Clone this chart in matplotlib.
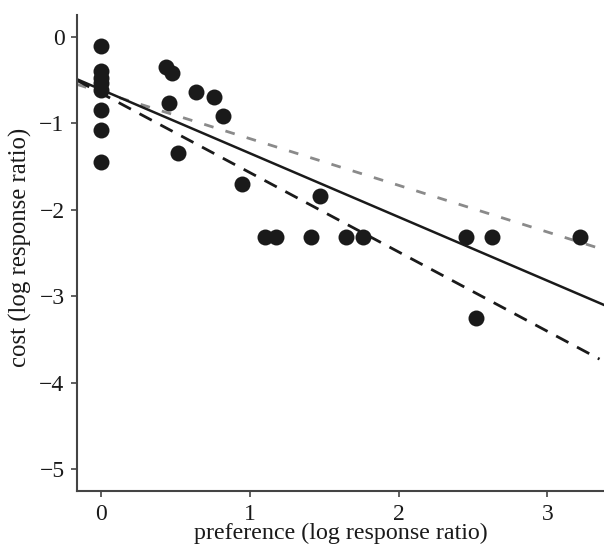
import matplotlib
matplotlib.use("Agg")
import matplotlib.pyplot as plt
import numpy as np

# data points
pref = [0, 0, 0, 0, 0, 0, 0, 0,
        0.44, 0.48, 0.46, 0.64, 0.76, 0.82, 0.52, 0.95,
        1.47, 1.10, 1.18, 1.41, 1.65, 1.76, 2.45, 2.63, 3.22, 2.52]
cost = [-0.10, -0.40, -0.47, -0.53, -0.62, -0.84, -1.08, -1.45,
        -0.35, -0.42, -0.77, -0.64, -0.70, -0.92, -1.34, -1.70,
        -1.84, -2.31, -2.31, -2.31, -2.31, -2.31, -2.31, -2.31, -2.31, -3.25]

# fitted lines: (intercept, slope)
fit_solid = [-0.608, -0.737]
fit_black_dash = [-0.65, -0.918]
fit_gray_dash = [-0.636, -0.54]

xticks = [0, 1, 2, 3]
yticks = [0, -1, -2, -3, -4, -5]
ytick_labels = ["0", "\u22121", "\u22122", "\u22123", "\u22124", "\u22125"]

plt.rcParams['font.family'] = ['Liberation Serif', 'DejaVu Serif']

fig = plt.figure(figsize=(6.04, 5.44), dpi=100)
ax = fig.add_axes([0.1275, 0.0974, 0.8725, 0.8746])

xs_full = np.array([-0.16, 3.38])
xs_dash = np.array([-0.16, 3.35])
ax.plot(xs_dash, fit_gray_dash[0] + fit_gray_dash[1] * xs_dash, color="#8a8a8a",
        lw=2.0, dashes=(3.5, 4.5), zorder=2)
ax.plot(xs_dash, fit_black_dash[0] + fit_black_dash[1] * xs_dash, color="#1a1a1a",
        lw=2.0, dashes=(5, 3.5), zorder=2)
ax.plot(xs_full, fit_solid[0] + fit_solid[1] * xs_full, color="#1a1a1a", lw=1.8, zorder=2)

ax.plot(pref, cost, 'o', color="#1a1a1a", markersize=11.5, markeredgewidth=0, zorder=3)

ax.set_xlim(-0.16, 3.38)
ax.set_ylim(-5.25, 0.25)
ax.set_xticks(xticks)
ax.set_xticklabels([str(t) for t in xticks])
ax.set_yticks(yticks)
ax.set_yticklabels(ytick_labels)

for s in ["top", "right"]:
    ax.spines[s].set_visible(False)
for s in ["left", "bottom"]:
    ax.spines[s].set_color("#444444")
    ax.spines[s].set_linewidth(1.5)

ax.tick_params(axis="both", direction="out", length=4, width=1.2, color="#444444",
               labelsize=17, labelcolor="#1a1a1a", pad=5)

ax.set_xlabel("preference (log response ratio)", fontsize=17.3, color="#1a1a1a", labelpad=-1)
ax.set_ylabel("cost (log response ratio)", fontsize=17.8, color="#1a1a1a")
ax.yaxis.set_label_coords(-0.085, 0.513)

fig.savefig("out.png", dpi=100)
